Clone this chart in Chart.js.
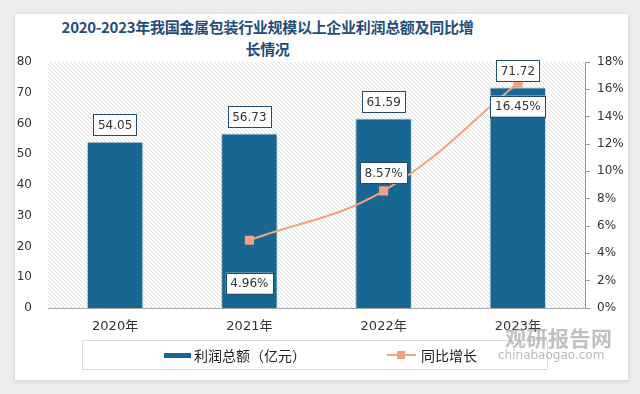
<!DOCTYPE html>
<html>
<head>
<meta charset="utf-8">
<script src="https://cdn.jsdelivr.net/npm/chart.js@4/dist/chart.umd.min.js"></script>
<style>
  html,body{margin:0;padding:0;}
  body{width:640px;height:394px;background:#ececec;position:relative;overflow:hidden;font-family:"Noto Sans CJK SC","DejaVu Sans",sans-serif;}
  .card{position:absolute;left:15px;top:14px;width:613px;height:366px;background:#fff;box-shadow:0 1px 4px rgba(0,0,0,.15);}
  .title{position:absolute;left:15px;top:16px;width:505px;text-align:center;color:#1f4e79;font-weight:bold;font-size:15px;line-height:22px;letter-spacing:-0.3px;}
  #chart{position:absolute;left:0;top:0;}
  .legend{position:absolute;left:82px;top:340px;width:466px;height:30px;border:1px solid #dcdcdc;background:#fff;box-sizing:border-box;font-size:14px;color:#222;}
  .lg{position:absolute;top:5px;line-height:18px;}
  .sw-bar{position:absolute;left:81px;top:12px;width:27px;height:5px;background:#186793;}
  .sw-line{position:absolute;left:304px;top:13px;width:29px;height:2px;background:#f2a27c;}
  .sw-dot{position:absolute;left:314px;top:10px;width:8px;height:8px;background:#f2a27c;}
  .wm1{position:absolute;left:505px;top:322px;font-size:21px;font-weight:bold;color:rgba(140,140,140,.55);letter-spacing:0.5px;}
  .wm2{position:absolute;left:498px;top:348px;font-size:12px;color:rgba(140,140,140,.6);font-family:"DejaVu Sans",sans-serif;}
</style>
</head>
<body>
<div class="card"></div>
<div class="title">2020-2023年我国金属包装行业规模以上企业利润总额及同比增<br>长情况</div>
<canvas id="chart" width="640" height="394"></canvas>
<div class="legend">
  <div class="sw-bar"></div><div class="lg" style="left:111px">利润总额（亿元）</div>
  <div class="sw-line"></div><div class="sw-dot"></div><div class="lg" style="left:338px">同比增长</div>
</div>
<div class="wm1">观研报告网</div>
<div class="wm2">chinabaogao.com</div>
<script>
// data
const years = ['2020年','2021年','2022年','2023年'];
const profit = [54.05, 56.73, 61.59, 71.72];
const growth = [null, 4.96, 8.57, 16.45];
const leftTicks = {min:0, max:80, step:10};
const rightTicks = {min:0, max:18, step:2};
// label placement for the growth line: px offset of box centre from point
const growthLabelDy = [0, 43, -18, 23];

// diagonal hatch for the plot area
function hatch(){
  const c = document.createElement('canvas');
  c.width = 4; c.height = 4;
  const g = c.getContext('2d');
  g.fillStyle = '#fff'; g.fillRect(0,0,4,4);
  g.strokeStyle = '#dedede'; g.lineWidth = 1;
  g.beginPath(); g.moveTo(0,0); g.lineTo(4,4); g.moveTo(-1,3); g.lineTo(1,5); g.moveTo(3,-1); g.lineTo(5,1); g.stroke();
  return g.createPattern(c,'repeat');
}

function box(ctx, text, cx, cy){
  ctx.font = '12px "DejaVu Sans", sans-serif';
  const w = ctx.measureText(text).width + 9, h = 21;
  ctx.fillStyle = '#fff';
  ctx.fillRect(cx - w/2, cy - h/2, w, h);
  ctx.strokeStyle = '#1f4e6e'; ctx.lineWidth = 1;
  ctx.strokeRect(Math.round(cx - w/2)+0.5, Math.round(cy - h/2)+0.5, Math.round(w), h);
  ctx.fillStyle = '#333'; ctx.textAlign = 'center'; ctx.textBaseline = 'middle';
  ctx.fillText(text, cx, cy + 1);
}

const BAR = 1, LINE = 0;

const plotBg = {
  id:'plotBg',
  beforeDraw(chart){
    const {ctx, chartArea:a} = chart;
    ctx.save(); ctx.fillStyle = hatch();
    ctx.fillRect(a.left, a.top, a.right - a.left, a.bottom - a.top);
    ctx.restore();
  },
  beforeDatasetDraw(chart, args){
    if(args.index === BAR){ chart.ctx.save(); chart.ctx.shadowColor='rgba(0,0,0,.25)'; chart.ctx.shadowBlur=3; chart.ctx.shadowOffsetX=-1; chart.ctx.shadowOffsetY=0; }
  },
  afterDatasetDraw(chart, args){
    if(args.index === BAR) chart.ctx.restore();
  }
};

const valueLabels = {
  id:'valueLabels',
  afterDatasetsDraw(chart){
    const ctx = chart.ctx;
    ctx.save();
    chart.getDatasetMeta(BAR).data.forEach((bar, i)=>{
      box(ctx, profit[i].toFixed(2), bar.x, bar.y - 17);
    });
    chart.getDatasetMeta(LINE).data.forEach((pt, i)=>{
      if(growth[i] == null) return;
      box(ctx, growth[i].toFixed(2) + '%', pt.x, pt.y + growthLabelDy[i]);
    });
    ctx.restore();
  }
};

new Chart(document.getElementById('chart'), {
  data:{
    labels: years,
    datasets:[
      { type:'line', label:'同比增长', data:growth, yAxisID:'y1', order:0,
        borderColor:'#f2a27c', backgroundColor:'#f2a27c', borderWidth:2,
        pointStyle:'rect', pointRadius:5, pointHoverRadius:5, tension:0.4, spanGaps:false },
      { type:'bar', label:'利润总额（亿元）', data:profit, yAxisID:'y', order:1,
        backgroundColor:'#186793', borderColor:'#d7e8f3', borderWidth:1,
        barPercentage:0.42, categoryPercentage:1 }
    ]
  },
  options:{
    responsive:false, animation:false,
    layout:{ padding:{ left:0, right:0, top:62, bottom:0 } },
    plugins:{ legend:{display:false}, tooltip:{enabled:false}, title:{display:false} },
    scales:{
      x:{
        grid:{ display:false, drawTicks:false },
        border:{ display:true, color:'#a8a8a8' },
        ticks:{ color:'#333', padding:11, font:{ size:13, family:'"DejaVu Sans","Noto Sans CJK SC",sans-serif' } },
        afterFit(s){ s.height = 86; }
      },
      y:{
        position:'left', min:leftTicks.min, max:leftTicks.max,
        grid:{ display:false, drawTicks:false }, border:{ display:false },
        ticks:{ stepSize:leftTicks.step, color:'#333', padding:16, font:{ size:12, family:'"DejaVu Sans",sans-serif' } },
        afterFit(s){ s.width = 48; }
      },
      y1:{
        position:'right', min:rightTicks.min, max:rightTicks.max,
        grid:{ drawOnChartArea:false, drawTicks:true, tickLength:5, color:'#999' },
        border:{ display:true, color:'#999' },
        ticks:{ stepSize:rightTicks.step, color:'#333', padding:7, callback:v=>v+'%', font:{ size:12, family:'"DejaVu Sans",sans-serif' } },
        afterFit(s){ s.width = 55; }
      }
    }
  },
  plugins:[plotBg, valueLabels]
});
</script>
</body>
</html>
